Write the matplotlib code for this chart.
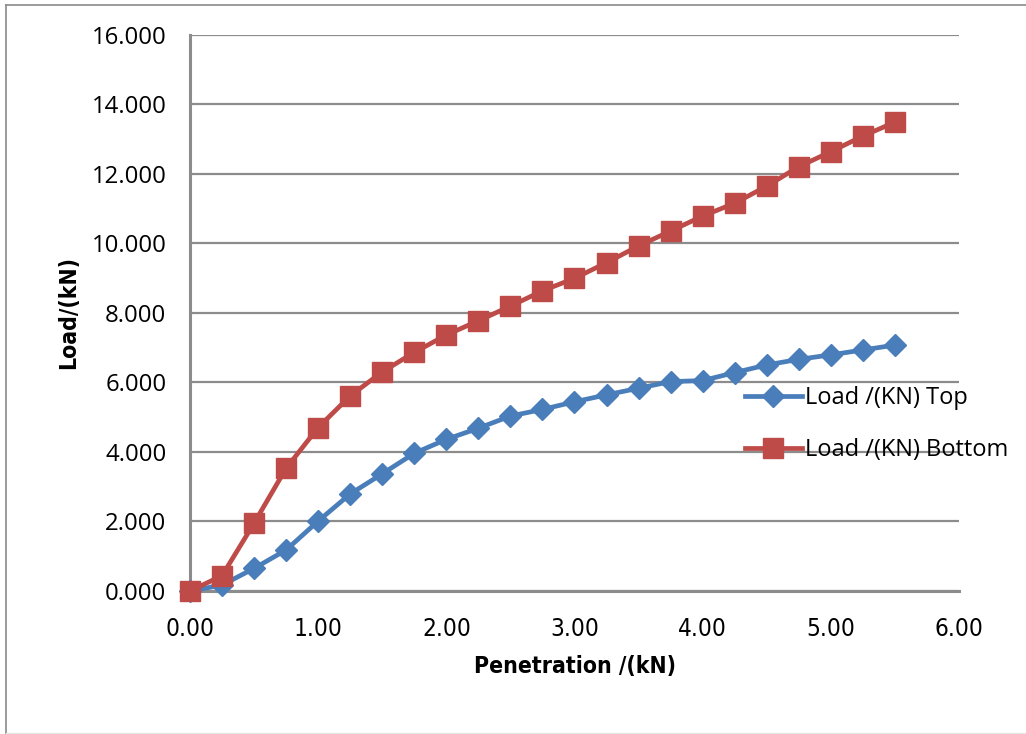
import matplotlib
matplotlib.use("Agg")
import matplotlib.pyplot as plt
from matplotlib.lines import Line2D

penetration = [0.00, 0.25, 0.50, 0.75, 1.00, 1.25, 1.50, 1.75, 2.00, 2.25, 2.50, 2.75,
               3.00, 3.25, 3.50, 3.75, 4.00, 4.25, 4.50, 4.75, 5.00, 5.25, 5.50]
load_top = [0.00, 0.17, 0.65, 1.18, 2.01, 2.79, 3.37, 3.96, 4.36, 4.68, 5.03, 5.22,
            5.44, 5.64, 5.83, 6.02, 6.05, 6.28, 6.50, 6.66, 6.79, 6.93, 7.07]
load_bottom = [0.00, 0.44, 1.95, 3.53, 4.70, 5.61, 6.30, 6.86, 7.36, 7.77, 8.19, 8.63,
               8.99, 9.44, 9.92, 10.35, 10.78, 11.15, 11.64, 12.20, 12.63, 13.08, 13.48]
series_names = ["Load /(KN) Top", "Load /(KN) Bottom"]

blue = "#4A7EBB"
red = "#BE4B48"
grid_gray = "#8C8C8C"

W, H = 1026, 734
fig = plt.figure(figsize=(W / 100, H / 100), dpi=100)
ax = fig.add_axes([190 / W, 1 - 591 / H, (959 - 190) / W, (591 - 34.5) / H])

ax.plot(penetration, load_top, color=blue, lw=3.4, marker="D", ms=11,
        label=series_names[0], clip_on=False, zorder=3)
ax.plot(penetration, load_bottom, color=red, lw=3.4, marker="s", ms=14.5,
        label=series_names[1], clip_on=False, zorder=4)

ax.set_xlim(0, 6)
ax.set_ylim(0, 16)
ax.set_xticks(range(0, 7))
ax.set_yticks(range(0, 17, 2))
ax.set_xticklabels([f"{v:.2f}" for v in range(0, 7)])
ax.set_yticklabels([f"{v:.3f}" for v in range(0, 17, 2)])
ax.tick_params(length=0)
ax.tick_params(axis="y", pad=17)
ax.tick_params(axis="x", pad=19)
for lab in ax.get_yticklabels():
    lab.set_fontfamily("Open Sans")
    lab.set_fontsize(17.3)
for lab in ax.get_xticklabels():
    lab.set_fontfamily("DejaVu Sans")
    lab.set_fontstretch("condensed")
    lab.set_fontsize(17.5)

ax.grid(axis="y", color=grid_gray, lw=1.6)
ax.set_axisbelow(True)
for side in ("top", "right"):
    ax.spines[side].set_visible(False)
for side in ("left", "bottom"):
    ax.spines[side].set_color(grid_gray)
    ax.spines[side].set_linewidth(2.2)

title_font = dict(fontsize=16.5, fontweight="bold", family="DejaVu Sans", fontstretch="condensed")
fig.text(69 / W, 1 - 312 / H, "Load/(kN)", rotation=90, ha="center", va="center", **title_font)
fig.text(575 / W, 1 - 667 / H, "Penetration /(kN)", ha="center", va="center", **title_font)

leg = fig.legend(loc="center left", bbox_to_anchor=(745 / W, 1 - 424 / H),
                 frameon=False, borderpad=0, borderaxespad=0, handlelength=2.4,
                 handletextpad=0.15, labelspacing=1.2,
                 prop={"family": "Open Sans", "size": 17})

# chart area border
fig.add_artist(Line2D([6 / W, 6 / W], [0, 1 - 5 / H], color="#8A8A8A", lw=1.2))
fig.add_artist(Line2D([6 / W, 1], [1 - 5 / H, 1 - 5 / H], color="#8A8A8A", lw=1.2))
fig.add_artist(Line2D([6 / W, 1], [1 / H, 1 / H], color="#E6E6E6", lw=1))

fig.savefig("out.png", dpi=100)
